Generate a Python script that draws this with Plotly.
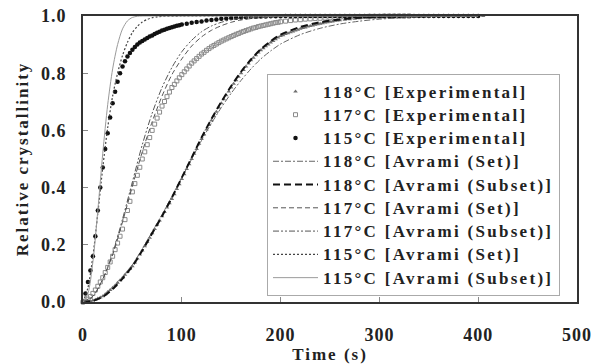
import plotly.graph_objects as go

# ---- Experimental relative crystallinity X(t) ----
t_exp_118 = [0, 2.5, 5, 7.5, 10, 12.5, 15, 17.5, 20, 22.5, 25, 27.5, 30, 32.5, 35, 37.5,
             40, 42.5, 45, 47.5, 50, 52.5, 55, 57.5, 60, 62.5, 65, 67.5, 70, 72.5, 75, 77.5,
             80, 82.5, 85, 87.5, 90, 92.5, 95, 97.5, 100, 102.5, 105, 107.5, 110, 112.5, 115, 117.5,
             120, 122.5, 125, 127.5, 130, 132.5, 135, 137.5, 140, 142.5, 145, 147.5, 150, 152.5, 155, 157.5,
             160, 162.5, 165, 167.5, 170, 172.5, 175, 177.5, 180, 182.5, 185, 187.5, 190, 192.5, 195, 197.5,
             200, 202.5, 205, 207.5, 210, 212.5, 215, 217.5, 220, 222.5, 225, 227.5, 230, 232.5, 235, 237.5,
             240, 242.5, 245, 247.5, 250, 252.5, 255, 257.5, 260,
             265, 270, 275, 280, 285, 290, 295, 300, 305, 310, 315, 320, 325, 330, 335, 340, 345, 350,
             355, 360, 365, 370, 375, 380, 385, 390, 395, 400, 405]
x_exp_118 = [0.000, 0.001, 0.002, 0.003, 0.005, 0.008, 0.012, 0.016, 0.020, 0.027, 0.035, 0.042, 0.050, 0.058, 0.067, 0.076,
             0.085, 0.095, 0.105, 0.115, 0.125, 0.138, 0.152, 0.166, 0.180, 0.195, 0.210, 0.225, 0.240, 0.255, 0.270, 0.285,
             0.300, 0.315, 0.330, 0.345, 0.360, 0.377, 0.395, 0.412, 0.430, 0.447, 0.465, 0.482, 0.500, 0.518, 0.535, 0.553,
             0.570, 0.586, 0.603, 0.619, 0.635, 0.650, 0.665, 0.680, 0.695, 0.709, 0.723, 0.736, 0.750, 0.763, 0.775, 0.788,
             0.800, 0.811, 0.823, 0.834, 0.845, 0.854, 0.863, 0.872, 0.880, 0.887, 0.894, 0.900, 0.907, 0.913, 0.919, 0.925,
             0.930, 0.933, 0.937, 0.940, 0.943, 0.946, 0.949, 0.952, 0.955, 0.958, 0.960, 0.963, 0.965, 0.967, 0.969, 0.971,
             0.973, 0.975, 0.977, 0.978, 0.980, 0.981, 0.983, 0.984, 0.985,
             0.987, 0.989, 0.990, 0.992, 0.993, 0.994, 0.995, 0.996, 0.996, 0.997, 0.997, 0.998, 0.998, 0.998, 0.999, 0.999, 0.999, 0.999,
             1.000, 1.000, 1.000, 1.000, 1.000, 1.000, 1.000, 1.000, 1.000, 1.000, 1.000]

t_exp_117 = [0, 2.5, 5, 7.5, 10, 12.5, 15, 17.5, 20, 22.5, 25, 27.5, 30, 32.5, 35, 37.5,
             40, 42.5, 45, 47.5, 50, 52.5, 55, 57.5, 60, 62.5, 65, 67.5, 70, 72.5, 75, 77.5,
             80, 82.5, 85, 87.5, 90, 92.5, 95, 97.5, 100, 102.5, 105, 107.5, 110, 112.5, 115, 117.5,
             120, 122.5, 125, 127.5, 130, 132.5, 135, 137.5, 140, 142.5, 145, 147.5, 150, 152.5, 155, 157.5,
             160, 162.5, 165, 167.5, 170, 172.5, 175, 177.5, 180, 182.5, 185, 187.5, 190, 192.5, 195, 197.5,
             200, 205, 210, 215, 220, 225, 230, 235, 240, 245, 250, 255, 260, 265, 270, 275, 280, 285,
             290, 295, 300, 305, 310, 315, 320, 325, 330]
x_exp_117 = [0.000, 0.003, 0.010, 0.019, 0.030, 0.042, 0.055, 0.070, 0.085, 0.103, 0.121, 0.140, 0.160, 0.183, 0.206, 0.230,
             0.255, 0.288, 0.320, 0.352, 0.385, 0.414, 0.443, 0.471, 0.500, 0.525, 0.550, 0.575, 0.600, 0.622, 0.643, 0.664,
             0.685, 0.701, 0.718, 0.734, 0.750, 0.761, 0.773, 0.784, 0.795, 0.805, 0.815, 0.825, 0.835, 0.843, 0.851, 0.859,
             0.867, 0.873, 0.880, 0.886, 0.892, 0.897, 0.902, 0.907, 0.912, 0.916, 0.920, 0.924, 0.928, 0.932, 0.936, 0.939,
             0.943, 0.946, 0.949, 0.952, 0.955, 0.958, 0.960, 0.963, 0.965, 0.967, 0.969, 0.971, 0.973, 0.975, 0.977, 0.978,
             0.980, 0.982, 0.984, 0.986, 0.987, 0.989, 0.990, 0.991, 0.992, 0.993, 0.994, 0.995, 0.996, 0.996, 0.997, 0.997, 0.998, 0.998,
             0.999, 0.999, 0.999, 1.000, 1.000, 1.000, 1.000, 1.000, 1.000]

t_exp_115 = [0, 2.5, 5, 7.5, 10, 12.5, 15, 17.5, 20, 22.5, 25, 27.5, 30, 32.5, 35, 37.5,
             40, 42.5, 45, 47.5, 50, 52.5, 55, 57.5, 60, 62.5, 65, 67.5, 70, 72.5, 75, 77.5,
             80, 82.5, 85, 87.5, 90, 92.5, 95, 97.5, 100,
             105, 110, 115, 120, 125, 130, 135, 140, 145, 150, 155, 160, 165, 170, 175, 180, 185, 190, 195, 200,
             205, 210, 215, 220, 225, 230, 235, 240, 245, 250, 255, 260, 265, 270, 275, 280, 285, 290, 295, 300,
             305, 310, 315, 320, 325, 330, 335, 340, 345, 350, 355, 360, 365, 370, 375, 380, 385, 390, 395, 400]
x_exp_115 = [0.000, 0.030, 0.070, 0.110, 0.160, 0.230, 0.320, 0.400, 0.470, 0.535, 0.590, 0.645, 0.695, 0.735, 0.770, 0.800,
             0.823, 0.842, 0.858, 0.871, 0.882, 0.892, 0.900, 0.907, 0.913, 0.918, 0.923, 0.928, 0.932, 0.937, 0.941, 0.945,
             0.949, 0.952, 0.955, 0.958, 0.961, 0.963, 0.966, 0.968, 0.970,
             0.973, 0.976, 0.979, 0.981, 0.984, 0.986, 0.988, 0.990, 0.991, 0.993, 0.994, 0.995, 0.996, 0.997, 0.997, 0.998, 0.998, 0.999, 0.999, 0.999,
             1.000, 1.000, 1.000, 1.000, 1.000, 1.000, 1.000, 1.000, 1.000, 1.000, 1.000, 1.000, 1.000, 1.000, 1.000, 1.000, 1.000, 1.000, 1.000, 1.000,
             1.000, 1.000, 1.000, 1.000, 1.000, 1.000, 1.000, 1.000, 1.000, 1.000, 1.000, 1.000, 1.000, 1.000, 1.000, 1.000, 1.000, 1.000, 1.000, 1.000]

# ---- Avrami model curves ----
t_fit_118 = [0, 10, 20, 30, 40, 50, 60, 70, 80, 90, 100, 110, 120, 130, 140, 150, 160, 170, 180, 190,
             200, 220, 240, 260, 280, 300, 330, 360, 400]
x_118_set = [0, 0.005, 0.020, 0.048, 0.085, 0.130, 0.185, 0.245, 0.305, 0.370, 0.435, 0.500, 0.565, 0.625,
             0.680, 0.730, 0.775, 0.815, 0.850, 0.878, 0.902, 0.935, 0.957, 0.972, 0.982, 0.989, 0.995, 0.998, 1.0]
x_118_subset = [0, 0.004, 0.018, 0.045, 0.082, 0.125, 0.180, 0.240, 0.300, 0.365, 0.435, 0.505, 0.575, 0.640,
                0.700, 0.755, 0.805, 0.848, 0.884, 0.912, 0.935, 0.962, 0.978, 0.988, 0.994, 0.997, 0.999, 1.0, 1.0]

t_fit_117 = [0, 10, 20, 30, 40, 50, 60, 70, 80, 90, 100, 110, 120, 130, 140, 150, 160, 170, 180,
             200, 220, 240, 270, 300, 350, 400]
x_117_set = [0, 0.020, 0.080, 0.165, 0.280, 0.405, 0.525, 0.630, 0.720, 0.795, 0.850, 0.895, 0.927, 0.950,
             0.966, 0.978, 0.986, 0.991, 0.994, 0.998, 0.999, 1.0, 1.0, 1.0, 1.0, 1.0]
x_117_subset = [0, 0.020, 0.080, 0.170, 0.290, 0.420, 0.550, 0.660, 0.750, 0.820, 0.875, 0.915, 0.945, 0.965,
                0.978, 0.987, 0.992, 0.995, 0.997, 0.999, 1.0, 1.0, 1.0, 1.0, 1.0, 1.0]

t_fit_115_set = [0, 5, 10, 15, 20, 25, 30, 35, 40, 45, 50, 55, 60, 65, 70, 75, 80, 100, 150, 200, 300, 400]
x_115_set = [0, 0.050, 0.160, 0.310, 0.470, 0.610, 0.720, 0.800, 0.862, 0.908, 0.942, 0.964, 0.979, 0.988,
             0.994, 0.997, 0.999, 1.0, 1.0, 1.0, 1.0, 1.0]
t_fit_115_subset = [0, 5, 10, 15, 20, 25, 30, 35, 40, 45, 50, 55, 60, 80, 100, 150, 200, 300, 400]
x_115_subset = [0, 0.030, 0.140, 0.320, 0.520, 0.690, 0.815, 0.900, 0.955, 0.983, 0.995, 0.999, 1.0, 1.0,
                1.0, 1.0, 1.0, 1.0, 1.0]

series_names = ["118°C [Experimental]", "117°C [Experimental]", "115°C [Experimental]",
                "118°C [Avrami (Set)]", "118°C [Avrami (Subset)]",
                "117°C [Avrami (Set)]", "117°C [Avrami (Subset)]",
                "115°C [Avrami (Set)]", "115°C [Avrami (Subset)]"]

x_ticks = [0, 100, 200, 300, 400, 500]
y_ticks = [0.0, 0.2, 0.4, 0.6, 0.8, 1.0]

SERIF = "Liberation Serif, Times New Roman, serif"
INK = "#222222"


def spaced(text, spacing, size=None):
    """Wrap text in a span with letter spacing (and optional size)."""
    style = f"letter-spacing:{spacing}px"
    if size:
        style += f";font-size:{size}px"
    return f'<span style="{style}">{text}</span>'


legend_labels = [spaced(n, 2.3, 17) for n in series_names]

fig = go.Figure()

fig.add_trace(go.Scatter(
    x=t_exp_118, y=x_exp_118, mode="markers", name=legend_labels[0],
    marker=dict(symbol="triangle-up", size=4, color="#6f6f6f"), cliponaxis=False))
fig.add_trace(go.Scatter(
    x=t_exp_117, y=x_exp_117, mode="markers", name=legend_labels[1],
    marker=dict(symbol="square-open", size=4, color="#8a8a8a", line=dict(width=1)), cliponaxis=False))
fig.add_trace(go.Scatter(
    x=t_exp_115, y=x_exp_115, mode="markers", name=legend_labels[2],
    marker=dict(symbol="circle", size=4.5, color="#111111"), cliponaxis=False))

fig.add_trace(go.Scatter(
    x=t_fit_118, y=x_118_set, mode="lines", name=legend_labels[3],
    line=dict(color="#666666", width=1, dash="6px,2px,2px,2px", shape="spline", smoothing=0.8)))
fig.add_trace(go.Scatter(
    x=t_fit_118, y=x_118_subset, mode="lines", name=legend_labels[4],
    line=dict(color="#111111", width=2, dash="7px,4px", shape="spline", smoothing=0.8)))
fig.add_trace(go.Scatter(
    x=t_fit_117, y=x_117_set, mode="lines", name=legend_labels[5],
    line=dict(color="#555555", width=1, dash="5px,3px", shape="spline", smoothing=0.8)))
fig.add_trace(go.Scatter(
    x=t_fit_117, y=x_117_subset, mode="lines", name=legend_labels[6],
    line=dict(color="#555555", width=1, dash="6px,2px,2px,2px,2px,2px", shape="spline", smoothing=0.8)))
fig.add_trace(go.Scatter(
    x=t_fit_115_set, y=x_115_set, mode="lines", name=legend_labels[7],
    line=dict(color="#444444", width=1.2, dash="2px,2px", shape="spline", smoothing=0.8)))
fig.add_trace(go.Scatter(
    x=t_fit_115_subset, y=x_115_subset, mode="lines", name=legend_labels[8],
    line=dict(color="#9a9a9a", width=1, shape="spline", smoothing=0.8)))

axis_common = dict(
    showgrid=False, zeroline=False, showline=True, linecolor="#333333", linewidth=2, mirror=True,
    ticks="inside", ticklen=5, tickcolor="#888888", tickwidth=1, automargin=False,
    tickfont=dict(family=SERIF, size=18, color=INK, weight="bold"),
)

fig.update_layout(
    width=592, height=364,
    margin=dict(l=83, r=15, t=16, b=62),
    paper_bgcolor="white", plot_bgcolor="white",
    font=dict(family=SERIF, color=INK),
    xaxis=dict(range=[0, 500], tickvals=x_ticks,
               ticktext=[spaced(str(v), 1) for v in x_ticks], ticklabelstandoff=15,
               title=dict(text=spaced("Time (s)", 2), font=dict(family=SERIF, size=17, color=INK, weight="bold"),
                          standoff=12),
               **axis_common),
    yaxis=dict(range=[0, 1], tickvals=y_ticks,
               ticktext=[spaced(f"{v:.1f}", 1) for v in y_ticks], ticklabelstandoff=11,
               title=dict(text=spaced("Relative crystallinity", 2),
                          font=dict(family=SERIF, size=17, color=INK, weight="bold"), standoff=8),
               **axis_common),
    legend=dict(
        x=0.3725, y=0.798, xanchor="left", yanchor="top",
        bgcolor="white", bordercolor="#aaaaaa", borderwidth=1,
        font=dict(family=SERIF, size=15.6, color=INK, weight="bold"),
        itemwidth=45, tracegroupgap=0,
    ),
    showlegend=True,
)

fig.write_html("out.html")
